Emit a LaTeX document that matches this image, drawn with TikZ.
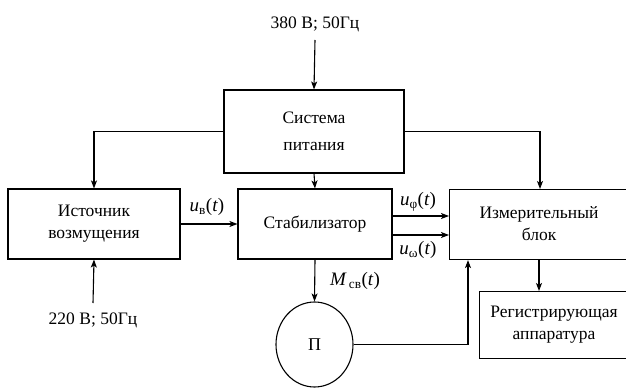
\documentclass[tikz,border=0pt]{standalone}
\usepackage{fontspec}
\setmainfont{Liberation Serif}
\usetikzlibrary{arrows.meta,shapes.geometric}
\newcommand{\sigl}[2]{\textit{#1}\textsubscript{#2}(\textit{t})}
\tikzset{
  box/.style={draw,line width=1.1pt,rectangle,inner sep=0pt,align=center,font=\fontsize{17.5}{22}\selectfont},
  arr/.style={line width=1.1pt,-{Stealth[length=8pt,width=6pt,inset=2pt]}},
  txt/.style={inner sep=0pt,font=\fontsize{17.5}{22}\selectfont},
  mlbl/.style={inner sep=0pt,font=\fontsize{19}{22}\selectfont},
}
\begin{document}
\begin{tikzpicture}[x=1pt,y=-1pt]
\useasboundingbox (0,0) rectangle (626,390);
\node[box,minimum width=180pt,minimum height=83pt] (sys) at (314,131.5) {Система\\[5pt]питания};
\node[box,minimum width=172pt,minimum height=70pt] (src) at (94,224) {Источник\\возмущения};
\node[box,minimum width=154pt,minimum height=70pt] (stab) at (315,224) {Стабилизатор};
\node[box,minimum width=190pt,minimum height=70pt,anchor=north west,text width=178pt] (meas) at (449,189) {};
\node[txt,align=center] (meastxt) at (539,224) {Измерительный\\блок};
\node[box,minimum width=160pt,minimum height=67pt,anchor=north west] (reg) at (479,291) {};
\node[txt,align=center] (regtxt) at (554,324.5) {Регистрирующая\\аппаратура};
\node[draw,ellipse,line width=1.1pt,minimum width=77pt,minimum height=85pt,inner sep=0pt,font=\fontsize{18}{22}\selectfont] (P) at (314.5,344.5) {П};

\node[txt] (l380) at (315,24) {380 В; 50Гц};
\node[txt] (l220) at (93,320) {220 В; 50Гц};
\coordinate (in380) at (315,40);
\coordinate (in220) at (93,303);

\node[mlbl] (lub) at (207,207) {\sigl{u}{в}};
\node[mlbl] (luf) at (418,202) {\sigl{u}{φ}};
\node[mlbl] (luw) at (418,250) {\sigl{u}{ω}};
\node[mlbl] (lm) at (355,281) {\sigl{M}{\,св}};

\draw[arr] (in380) -- (sys.north);
\draw[arr] (sys.west) -| (src.north);
\draw[arr] (sys.east) -| ([xshift=91pt]meas.north west);
\draw[arr] (sys.south) -- (stab.north);
\draw[arr] (in220) -- (src.south);
\draw[arr] (src.east) -- (stab.west);
\draw[arr] ([yshift=8pt]stab.east) -- ([yshift=8pt]stab.east -| meas.west);
\draw[arr] ([yshift=-11pt]stab.east) -- ([yshift=-11pt]stab.east -| meas.west);
\draw[arr] (stab.south) -- (P.north);
\draw[arr] (P.east) -| ([xshift=19pt]meas.south west);
\draw[arr] ([xshift=90pt]meas.south west) -- ([xshift=60pt]reg.north west);
\end{tikzpicture}
\end{document}
